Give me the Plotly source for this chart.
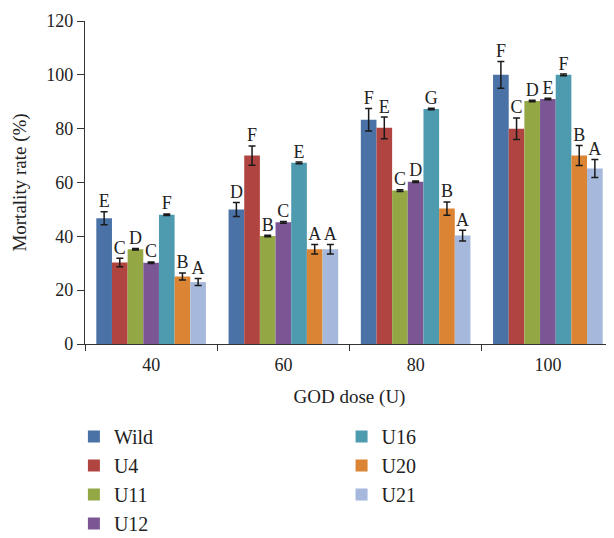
import plotly.graph_objects as go

doses = ["40", "60", "80", "100"]
series = ["Wild", "U4", "U11", "U12", "U16", "U20", "U21"]
colors = ["#4A72A6", "#B04441", "#93A845", "#7B5695", "#4E9BB0", "#DB8433", "#A6B8DB"]

wild = [46.7, 50, 83.3, 100]
u4 = [30.3, 70, 80.3, 80]
u11 = [35.2, 40.1, 57, 90.3]
u12 = [30.2, 45.2, 60.3, 91]
u16 = [48, 67.3, 87.3, 100]
u20 = [25.1, 35.2, 50.3, 70]
u21 = [23, 35.2, 40.3, 65.2]

wild_err = [2.4, 2.6, 4.2, 5.0]
u4_err = [1.6, 3.6, 4.0, 4.0]
u11_err = [0.3, 0.3, 0.3, 0.3]
u12_err = [0.3, 0.3, 0.3, 0.3]
u16_err = [0.3, 0.3, 0.3, 0.3]
u20_err = [1.3, 1.8, 2.5, 3.7]
u21_err = [1.3, 1.8, 2.0, 3.3]

wild_lbl = ["E", "D", "F", "F"]
u4_lbl = ["C", "F", "E", "C"]
u11_lbl = ["D", "B", "C", "D"]
u12_lbl = ["C", "C", "D", "E"]
u16_lbl = ["F", "E", "G", "F"]
u20_lbl = ["B", "A", "B", "B"]
u21_lbl = ["A", "A", "A", "A"]

values = [wild, u4, u11, u12, u16, u20, u21]
errors = [wild_err, u4_err, u11_err, u12_err, u16_err, u20_err, u21_err]
labels = [wild_lbl, u4_lbl, u11_lbl, u12_lbl, u16_lbl, u20_lbl, u21_lbl]

FONT = "Liberation Serif"
TXT = "#222222"
fig = go.Figure()
for i, name in enumerate(series):
    fig.add_trace(go.Bar(
        x=doses, y=values[i], name=name, marker_color=colors[i], marker_line_width=0,
        error_y=dict(type="data", array=errors[i], color="#1a1a1a", thickness=1.5, width=3.5),
        legend="legend" if i < 4 else "legend2",
    ))
for i, name in enumerate(series):
    tops = [v + e for v, e in zip(values[i], errors[i])]
    fig.add_trace(go.Scatter(
        x=doses, y=tops, mode="text", text=labels[i], textposition="top center",
        textfont=dict(family=FONT, size=18, color=TXT),
        showlegend=False, hoverinfo="skip", marker=dict(size=14),
    ))

fig.update_layout(
    width=606, height=530,
    margin=dict(l=77, r=0, t=13, b=193.5, autoexpand=False),
    paper_bgcolor="white", plot_bgcolor="white",
    barmode="group", bargap=0.171, bargroupgap=0,
    scattermode="group", scattergap=0.171,
    font=dict(family=FONT, size=18, color=TXT),
    legend=dict(x=-0.021, y=-0.226, xanchor="left", yanchor="top",
                font=dict(family=FONT, size=20, color=TXT), tracegroupgap=0,
                itemwidth=30),
    legend2=dict(x=0.485, y=-0.226, xanchor="left", yanchor="top",
                 font=dict(family=FONT, size=20, color=TXT), tracegroupgap=0,
                 itemwidth=30),
)
fig.update_xaxes(
    type="category", showline=True, linecolor="#333333", linewidth=1.2,
    ticks="outside", tickson="boundaries", ticklen=6, tickcolor="#333333",
    tickfont=dict(family=FONT, size=18, color=TXT), automargin=False,
    ticklabelstandoff=4,
    title=dict(text="GOD dose (U)", font=dict(family=FONT, size=19, color=TXT), standoff=15),
    showgrid=False, zeroline=False,
)
fig.update_yaxes(
    range=[0, 120], dtick=20, showline=True, linecolor="#333333", linewidth=1.2,
    ticks="outside", ticklen=7, tickcolor="#333333", automargin=False,
    tickfont=dict(family=FONT, size=18, color=TXT),
    title=dict(text="Mortality rate (%)", font=dict(family=FONT, size=19, color=TXT), standoff=14),
    showgrid=False, zeroline=False,
)
fig.write_html("out.html")
